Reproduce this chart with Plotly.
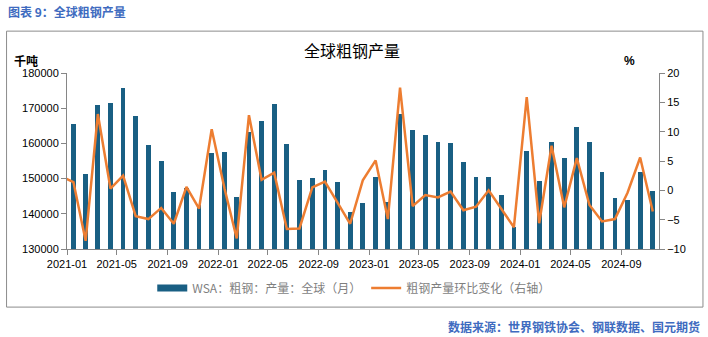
import plotly.graph_objects as go

# ---------------- data ----------------
months = [f"{y}-{m:02d}" for y in range(2021, 2025) for m in range(1, 13)][:47]
production = [165600, 151400, 171000, 171600, 175800, 167900, 159600, 155000, 146200, 147400, 142500, 157300,
              157600, 144800, 163300, 166400, 171300, 159900, 149600, 150200, 152500, 149100, 140500, 143100,
              150500, 143400, 168400, 163900, 162400, 160500, 160200, 154800, 150500, 150500, 145400, 136300,
              157900, 149400, 160500, 155900, 164700, 160500, 152000, 144500, 144000, 152000, 146500]
mom_months = ["2020-12"] + months
mom_change = [2.4, 1.4, -8.6, 13.0, 0.3, 2.5, -4.4, -4.9, -3.0, -5.7, 0.6, -3.1, 10.4,
              0.3, -8.2, 12.8, 1.8, 3.0, -6.6, -6.5, 0.5, 1.5, -2.1, -5.7, 1.7,
              5.1, -4.9, 17.5, -2.7, -0.8, -1.2, -0.2, -3.4, -2.8, 0.0, -3.2, -6.3,
              15.9, -5.6, 7.6, -2.9, 5.5, -2.5, -5.3, -4.9, -0.4, 5.6, -3.6]
bar_name = "WSA：粗钢：产量：全球（月）"
line_name = "粗钢产量环比变化（右轴）"
left_ticks = [130000, 140000, 150000, 160000, 170000, 180000]
right_ticks = [-10, -5, 0, 5, 10, 15, 20]

BAR_C = "#195F83"
LINE_C = "#ED7D31"
AXIS_C = "#868686"
FONT = "Liberation Sans, Noto Sans CJK SC, sans-serif"
CJK = "Noto Sans CJK SC, sans-serif"

# plot area in pixels
L, R, T, B = 67, 659.5, 73.3, 249
W, H = 708, 337
PW, PH = R - L, B - T


def px(x):
    return (x - L) / PW


def py(y):
    return (B - y) / PH


fig = go.Figure()
fig.add_trace(go.Bar(
    x=months, y=production, xperiod="M1", xperiodalignment="middle",
    marker=dict(color=BAR_C, line=dict(width=0)),
    width=11.5 * 86400000, showlegend=False, name=bar_name,
))
# legend proxy for bar (wide rectangle)
fig.add_trace(go.Scatter(
    x=[None], y=[None], mode="lines", name=bar_name,
    line=dict(color=BAR_C, width=7), showlegend=True,
))
fig.add_trace(go.Scatter(
    x=mom_months, y=mom_change, xperiod="M1", xperiodalignment="middle",
    mode="lines", name=line_name, yaxis="y2",
    line=dict(color=LINE_C, width=2.5),
))

fig.update_layout(
    width=W, height=H,
    margin=dict(l=L, r=W - R, t=T, b=H - B, pad=0),
    paper_bgcolor="white", plot_bgcolor="white",
    font=dict(family=FONT, size=11, color="black"),
    bargap=0,
    xaxis=dict(
        type="date", range=["2021-01-01", "2024-12-01"],
        tick0="2021-01-01", dtick="M4", tickformat="%Y-%m",
        showgrid=False, zeroline=False,
        showline=True, linecolor=AXIS_C, linewidth=1,
        ticks="outside", ticklen=5, tickcolor=AXIS_C,
        tickfont=dict(family=FONT, size=11, color="black"),
    ),
    yaxis=dict(
        range=[130000, 180000], tickvals=left_ticks, tickformat="d",
        showgrid=False, zeroline=False,
        showline=True, linecolor=AXIS_C, linewidth=1,
        ticks="outside", ticklen=5, tickcolor=AXIS_C,
        tickfont=dict(family=FONT, size=11, color="black"),
    ),
    yaxis2=dict(
        range=[-10, 20], tickvals=right_ticks, overlaying="y", side="right",
        showgrid=False, zeroline=False,
        showline=True, linecolor=AXIS_C, linewidth=1,
        ticks="outside", ticklen=5, tickcolor=AXIS_C,
        tickfont=dict(family=FONT, size=11, color="black"),
    ),
    legend=dict(
        orientation="h", x=px(354), y=py(288), xanchor="center", yanchor="middle",
        font=dict(family=CJK, size=12, color="#7F7F7F"),
        bgcolor="rgba(0,0,0,0)", itemwidth=30, traceorder="normal",
    ),
    shapes=[dict(
        type="rect", xref="paper", yref="paper",
        x0=px(6.5), x1=px(703.5), y0=py(307), y1=py(31.5),
        line=dict(color="#8C8C8C", width=1), fillcolor="rgba(0,0,0,0)", layer="below",
    )],
    annotations=[
        dict(text="<b>图表 9：全球粗钢产量</b>", xref="paper", yref="paper",
             x=px(6), y=py(11.5), xanchor="left", yanchor="middle", showarrow=False,
             font=dict(family=CJK, size=12, color="#3E6BC0")),
        dict(text="全球粗钢产量", xref="paper", yref="paper",
             x=px(352.5), y=py(50), xanchor="center", yanchor="middle", showarrow=False,
             font=dict(family=CJK, size=16, color="black")),
        dict(text="<b>千吨</b>", xref="paper", yref="paper",
             x=px(12), y=py(61), xanchor="left", yanchor="middle", showarrow=False,
             font=dict(family=CJK, size=12, color="black")),
        dict(text="<b>%</b>", xref="paper", yref="paper",
             x=px(629.5), y=py(61.5), xanchor="center", yanchor="middle", showarrow=False,
             font=dict(family=FONT, size=12, color="black")),
        dict(text="<b>数据来源：世界钢铁协会、钢联数据、国元期货</b>", xref="paper", yref="paper",
             x=px(703), y=py(326), xanchor="right", yanchor="middle", showarrow=False,
             font=dict(family=CJK, size=12, color="#3E6BC0")),
    ],
)

fig.write_html("out.html")
